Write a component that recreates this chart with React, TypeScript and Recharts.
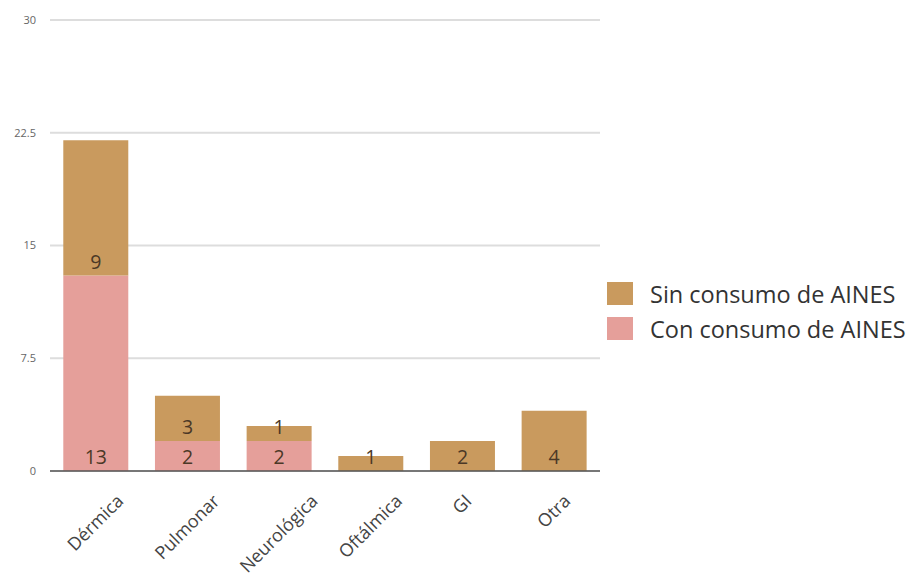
import { BarChart, Bar, XAxis, YAxis, CartesianGrid, LabelList } from 'recharts'

const categories = ['Dérmica', 'Pulmonar', 'Neurológica', 'Oftálmica', 'GI', 'Otra']
const conAines = [13, 2, 2, 0, 0, 0]
const sinAines = [9, 3, 1, 1, 2, 4]
const yTicks = [0, 7.5, 15, 22.5, 30]

const SIN_COLOR = '#c99a5e'
const CON_COLOR = '#e59f9a'
const FONT = '"Open Sans", sans-serif'

const data = categories.map((name, i) => ({ name, con: conAines[i], sin: sinAines[i] }))

let ctx: CanvasRenderingContext2D | null = null
function textWidth(text: string, size: number): number {
  if (!ctx) ctx = document.createElement('canvas').getContext('2d')
  if (!ctx) return text.length * size * 0.55
  ctx.font = `${size}px "Open Sans"`
  return ctx.measureText(text).width
}

// rotated label whose bounding box sits centred under the bar, top at a fixed line
function RotatedTick(props: any) {
  const { x, y, payload } = props
  const size = 18
  const len = textWidth(payload.value, size)
  const px = x + 4
  const py = y + 14 + 0.707 * (len / 2 + 13)
  return (
    <text
      x={px}
      y={py}
      textAnchor="middle"
      fontSize={size}
      fill="#444"
      fontFamily={FONT}
      transform={`rotate(-45, ${px}, ${py})`}
    >
      {payload.value}
    </text>
  )
}

function BottomLabel(props: any) {
  const { x, y, width, height, value } = props
  if (!value) return null
  return (
    <text x={x + width / 2} y={y + height - 7} textAnchor="middle" fontSize={19.5} fill="#4b3826" fontFamily={FONT}>
      {value}
    </text>
  )
}

const legendItems = [
  { label: 'Sin consumo de AINES', color: SIN_COLOR },
  { label: 'Con consumo de AINES', color: CON_COLOR },
]

function LegendBox() {
  return (
    <div style={{ position: 'absolute', left: 607, top: 276, fontFamily: FONT }}>
      {legendItems.map((it) => (
        <div key={it.label} style={{ display: 'flex', alignItems: 'center', height: 35 }}>
          <div style={{ width: 26, height: 23, background: it.color, marginRight: 17 }} />
          <span style={{ fontSize: 23.5, color: '#333', whiteSpace: 'nowrap' }}>{it.label}</span>
        </div>
      ))}
    </div>
  )
}

export default function App() {
  return (
    <div style={{ position: 'absolute', left: 0, top: 0, width: 909, height: 576 }}>
      <BarChart
        width={909}
        height={576}
        data={data}
        margin={{ top: 20, right: 309, left: 0, bottom: 5 }}
        barCategoryGap="14.5%"
        style={{ fontFamily: FONT }}
      >
        <CartesianGrid vertical={false} stroke="#dddddd" strokeWidth={2} />
        <XAxis
          dataKey="name"
          height={100}
          interval={0}
          tickLine={false}
          axisLine={{ stroke: '#555', strokeWidth: 1.5 }}
          tick={<RotatedTick />}
        />
        <YAxis
          width={50}
          domain={[0, 30]}
          ticks={yTicks}
          axisLine={false}
          tickLine={false}
          tickSize={6}
          tickMargin={8}
          tick={{ fontSize: 11, fill: '#666' }}
        />
        <Bar dataKey="con" stackId="a" fill={CON_COLOR} isAnimationActive={false}>
          <LabelList dataKey="con" content={<BottomLabel />} />
        </Bar>
        <Bar dataKey="sin" stackId="a" fill={SIN_COLOR} isAnimationActive={false}>
          <LabelList dataKey="sin" content={<BottomLabel />} />
        </Bar>
      </BarChart>
      <LegendBox />
    </div>
  )
}
